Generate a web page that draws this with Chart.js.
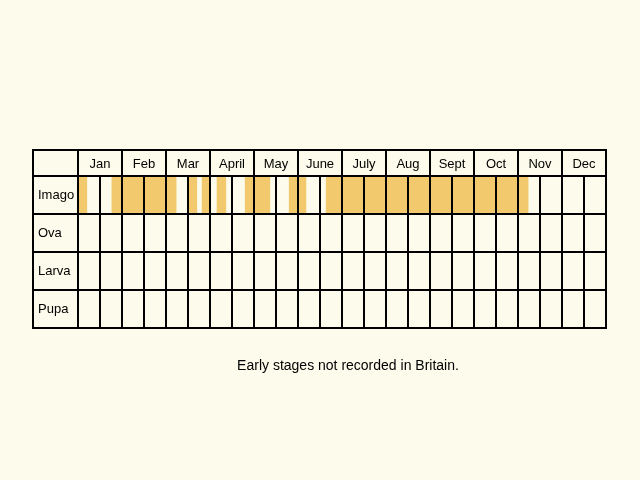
<!DOCTYPE html>
<html><head><meta charset="utf-8">
<script src="https://cdn.jsdelivr.net/npm/chart.js@4"></script>
<style>html,body{margin:0;padding:0;background:#fdfbeb;}canvas{display:block}</style>
</head><body><canvas id="c" width="640" height="480"></canvas>
<script>
const months=['Jan','Feb','Mar','April','May','June','July','Aug','Sept','Oct','Nov','Dec'];
const stages=['Imago','Ova','Larva','Pupa'];
// imago periods in months from Jan 1 (start, end)
const imagoStart=[0,0.77,2.5,2.82,3.16,3.8,4.8,5.64];
const imagoEnd=[0.2,2.23,2.7,3.0,3.36,4.36,5.18,10.23];
const note='Early stages not recorded in Britain.';

const data=imagoStart.map((s,i)=>({x:[s,imagoEnd[i]],y:'Imago'}));
const gridPlugin={id:'grid',
beforeDatasetsDraw(ch){const c=ch.ctx,a=ch.chartArea;c.save();c.fillStyle='#fdfbeb';c.fillRect(a.left,a.top,a.right-a.left,a.bottom-a.top);c.restore();},
afterDatasetsDraw(ch){
 const c=ch.ctx,a=ch.chartArea,xs=ch.scales.x,ys=ch.scales.y;
 const L=33,hT=150,rowH=(a.bottom-a.top)/stages.length;
 c.save();c.strokeStyle='#000';c.lineWidth=2;
 c.strokeRect(L,hT,a.right-L,a.bottom-hT);
 c.beginPath();
 // horizontal lines
 for(let i=0;i<=stages.length;i++){const y=a.top+i*rowH;c.moveTo(L,y);c.lineTo(a.right,y);}
 // month boundaries full height
 for(let m=0;m<=12;m++){const x=xs.getPixelForValue(m);c.moveTo(x,hT);c.lineTo(x,a.bottom);}
 // half-month lines in body
 for(let m=0;m<12;m++){const x=xs.getPixelForValue(m+0.5);c.moveTo(x,a.top);c.lineTo(x,a.bottom);}
 c.stroke();
 c.fillStyle='#000';c.font='13px "Liberation Sans", Arial, sans-serif';c.textBaseline='middle';c.textAlign='center';
 months.forEach((m,i)=>c.fillText(m,xs.getPixelForValue(i+0.5),(hT+a.top)/2+1));
 c.textAlign='left';
 stages.forEach((s,i)=>c.fillText(s,L+5,ys.getPixelForValue(s)));
 c.textAlign='center';c.font='14px "Liberation Sans", Arial, sans-serif';
 c.fillText(note,348,366);
 c.restore();}
};
new Chart(document.getElementById('c'),{type:'bar',
 data:{labels:stages,datasets:[{data,backgroundColor:'#f2c96c',borderWidth:0,barPercentage:1,categoryPercentage:1,grouped:false}]},
 options:{indexAxis:'y',responsive:false,animation:false,
  layout:{padding:{left:78,right:34,top:176,bottom:152}},
  plugins:{legend:{display:false},tooltip:{enabled:false}},
  scales:{x:{type:'linear',min:0,max:12,display:false},y:{type:'category',display:false}}},
 plugins:[gridPlugin]});
</script></body></html>
